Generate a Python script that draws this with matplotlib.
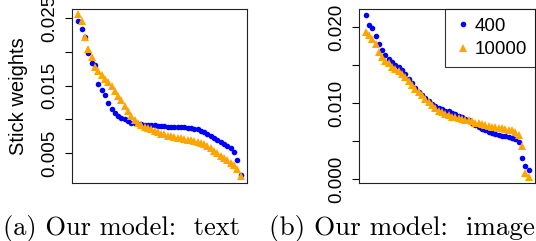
import matplotlib
matplotlib.use("Agg")
import matplotlib.pyplot as plt
import numpy as np

plt.rcParams['font.family'] = ['Liberation Sans', 'DejaVu Sans']

# stick weights, sorted, panel (a) text
text_400 = [0.0245, 0.0233, 0.0222, 0.0198, 0.0184, 0.0180, 0.0152, 0.0143, 0.0136, 0.0124,
            0.0116, 0.0110, 0.0105, 0.0102, 0.0100, 0.0098, 0.0095, 0.0094, 0.0093, 0.0093,
            0.0092, 0.0092, 0.0091, 0.0091, 0.0090, 0.0090, 0.0090, 0.0089, 0.0089, 0.0089,
            0.0088, 0.0088, 0.0088, 0.0087, 0.0087, 0.0086, 0.0085, 0.0083, 0.0081, 0.0079,
            0.0076, 0.0073, 0.0070, 0.0067, 0.0064, 0.0061, 0.0058, 0.0052, 0.0040, 0.0018]
text_10000 = [0.0256, 0.0246, 0.0222, 0.0204, 0.0192, 0.0178, 0.0171, 0.0165, 0.0160, 0.0155,
              0.0149, 0.0142, 0.0135, 0.0128, 0.0120, 0.0112, 0.0105, 0.0099, 0.0095, 0.0092,
              0.0089, 0.0087, 0.0085, 0.0083, 0.0081, 0.0079, 0.0078, 0.0076, 0.0075, 0.0074,
              0.0073, 0.0072, 0.0071, 0.0070, 0.0069, 0.0068, 0.0067, 0.0065, 0.0063, 0.0060,
              0.0057, 0.0053, 0.0050, 0.0046, 0.0043, 0.0040, 0.0036, 0.0032, 0.0027, 0.0016]

# panel (b) image
image_400 = [0.0216, 0.0202, 0.0199, 0.0188, 0.0177, 0.0170, 0.0163, 0.0158, 0.0154, 0.0150,
             0.0147, 0.0143, 0.0138, 0.0132, 0.0126, 0.0120, 0.0115, 0.0110, 0.0106, 0.0102,
             0.0099, 0.0096, 0.0094, 0.0092, 0.0090, 0.0089, 0.0087, 0.0085, 0.0083, 0.0081,
             0.0079, 0.0077, 0.0074, 0.0071, 0.0068, 0.0066, 0.0064, 0.0062, 0.0060, 0.0059,
             0.0058, 0.0057, 0.0056, 0.0055, 0.0054, 0.0052, 0.0049, 0.0028, 0.0017, 0.0012]
image_10000 = [0.0194, 0.0189, 0.0184, 0.0178, 0.0167, 0.0160, 0.0155, 0.0152, 0.0148, 0.0145,
               0.0142, 0.0138, 0.0134, 0.0129, 0.0124, 0.0119, 0.0114, 0.0110, 0.0105, 0.0101,
               0.0097, 0.0093, 0.0090, 0.0088, 0.0086, 0.0084, 0.0082, 0.0081, 0.0080, 0.0079,
               0.0078, 0.0077, 0.0076, 0.0074, 0.0073, 0.0072, 0.0071, 0.0070, 0.0069, 0.0068,
               0.0067, 0.0067, 0.0066, 0.0065, 0.0064, 0.0062, 0.0058, 0.0044, 0.0008, 0.0003]

ticks_a = [0.005, 0.01, 0.015, 0.02, 0.025]
labels_a = ['0.005', '', '0.015', '', '0.025']
ticks_b = [0.0, 0.005, 0.01, 0.015, 0.02]
labels_b = ['0.000', '', '0.010', '', '0.020']

fig = plt.figure(figsize=(5.36, 2.41), dpi=100)
ax_a = fig.add_axes([0.1343, 0.2407, 0.3265, 0.722])
ax_b = fig.add_axes([0.6698, 0.2407, 0.3284, 0.722])

def panel(ax, blue, orange, ylim, ticks, labels):
    n = len(blue)
    idx = np.arange(1, n + 1)
    ax.plot(idx, blue, linestyle='none', marker='o', color='#0000ff',
            markersize=4.0, markeredgewidth=0, label='400')
    ax.plot(np.arange(1, len(orange) + 1), orange, linestyle='none', marker='^',
            color='#ffa500', markersize=5.4, markeredgewidth=0, label='10000')
    pad = 0.04 * (n - 1)
    ax.set_xlim(1 - pad, n + pad)
    ax.set_ylim(*ylim)
    ax.set_xticks([])
    ax.set_yticks(ticks)
    ax.set_yticklabels(labels, rotation=90, va='center', fontsize=13.5)
    ax.tick_params(axis='y', length=5, width=0.8, pad=5, colors='black')
    for s in ax.spines.values():
        s.set_linewidth(0.8)
        s.set_color('#222222')

panel(ax_a, text_400, text_10000, (0.00059, 0.02632), ticks_a, labels_a)
panel(ax_b, image_400, image_10000, (-0.00053, 0.02237), ticks_b, labels_b)

ax_a.set_ylabel('Stick weights', fontsize=14.5)
ax_a.yaxis.set_label_coords(-0.25, 0.5)

leg = ax_b.legend(loc='upper right', fontsize=13.5, frameon=True, fancybox=False,
                  borderaxespad=0, handletextpad=0.1, handlelength=1.0,
                  borderpad=0.45, labelspacing=0.35, markerscale=1.0)
leg.get_frame().set_edgecolor('black')
leg.get_frame().set_linewidth(0.8)

fig.text(3 / 536, 6 / 241, '(a) Our model:  text', family='cmr10', fontsize=19,
         ha='left', va='baseline')
fig.text(269 / 536, 6 / 241, '(b) Our model:  image', family='cmr10', fontsize=19.5,
         ha='left', va='baseline')

plt.savefig('out.png', dpi=100)
